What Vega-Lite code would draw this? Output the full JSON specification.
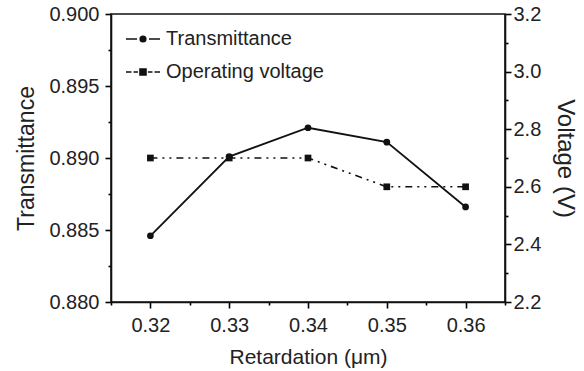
{
  "$schema": "https://vega.github.io/schema/vega-lite/v6.json",
  "width": 394,
  "height": 288,
  "autosize": "none",
  "padding": {"left": 111, "top": 14, "right": 79, "bottom": 69},
  "background": "white",
  "config": {
    "font": "Liberation Sans",
    "view": {"stroke": "#111", "strokeWidth": 1.6},
    "axis": {
      "grid": false,
      "ticks": true,
      "domainColor": "#111",
      "domainWidth": 1.6,
      "tickColor": "#000",
      "tickOpacity": 1,
      "tickWidth": 1.6,
      "labelFont": "Liberation Sans",
      "labelFontSize": 20,
      "labelColor": "#222",
      "titleFont": "Liberation Sans",
      "titleFontSize": 20,
      "titleFontWeight": "normal",
      "titleColor": "#222",
      "labelFlush": false,
      "labelOverlap": false
    },
    "legend": {
      "orient": "none",
      "legendX": 21,
      "legendY": 14,
      "padding": 0,
      "symbolSize": 400,
      "symbolStrokeWidth": 1.6,
      "symbolOpacity": 1,
      "labelFont": "Liberation Sans",
      "labelFontSize": 20,
      "labelColor": "#222",
      "labelOffset": 12,
      "rowPadding": 12
    }
  },
  "data": {
    "values": [
      {"retardation": 0.32, "series": "Transmittance", "value": 0.8846},
      {"retardation": 0.33, "series": "Transmittance", "value": 0.8901},
      {"retardation": 0.34, "series": "Transmittance", "value": 0.8921},
      {"retardation": 0.35, "series": "Transmittance", "value": 0.8911},
      {"retardation": 0.36, "series": "Transmittance", "value": 0.8866},
      {"retardation": 0.32, "series": "Operating voltage", "value": 2.7},
      {"retardation": 0.33, "series": "Operating voltage", "value": 2.7},
      {"retardation": 0.34, "series": "Operating voltage", "value": 2.7},
      {"retardation": 0.35, "series": "Operating voltage", "value": 2.6},
      {"retardation": 0.36, "series": "Operating voltage", "value": 2.6}
    ]
  },
  "encoding": {
    "x": {
      "field": "retardation",
      "type": "quantitative",
      "scale": {"domain": [0.315, 0.365], "nice": false, "zero": false},
      "axis": {
        "title": "Retardation (μm)",
        "titleFontSize": 21,
        "values": [0.315, 0.32, 0.325, 0.33, 0.335, 0.34, 0.345, 0.35, 0.355, 0.36, 0.365],
        "labelExpr": "round(datum.value * 200) % 2 ? '' : format(datum.value, '.2f')",
        "tickSize": {"condition": {"test": "round(datum.value * 200) % 2 == 1", "value": 3}, "value": 6},
        "labelPadding": 7,
        "titlePadding": 11
      }
    }
  },
  "layer": [
    {
      "transform": [{"filter": "datum.series === 'Transmittance'"}],
      "mark": {
        "type": "line",
        "color": "#111",
        "strokeWidth": 1.8,
        "point": {"filled": true, "size": 45, "color": "#111"}
      },
      "encoding": {
        "y": {
          "field": "value",
          "type": "quantitative",
          "scale": {"domain": [0.88, 0.9], "nice": false, "zero": false},
          "axis": {
            "orient": "left",
            "title": "Transmittance",
            "titleFontSize": 23,
            "values": [0.88, 0.8825, 0.885, 0.8875, 0.89, 0.8925, 0.895, 0.8975, 0.9],
            "labelExpr": "round(datum.value * 400) % 2 ? '' : format(datum.value, '.3f')",
            "tickSize": {"condition": {"test": "round(datum.value * 400) % 2 == 1", "value": 3}, "value": 6},
            "labelPadding": 6,
            "titlePadding": 10
          }
        }
      }
    },
    {
      "transform": [{"filter": "datum.series === 'Operating voltage'"}],
      "mark": {
        "type": "line",
        "color": "#111",
        "strokeWidth": 1.6,
        "strokeDash": [7, 5, 2, 5, 2, 5],
        "point": {"filled": true, "size": 45, "shape": "square", "color": "#111"}
      },
      "encoding": {
        "y": {
          "field": "value",
          "type": "quantitative",
          "scale": {"domain": [2.2, 3.2], "nice": false, "zero": false},
          "axis": {
            "orient": "right",
            "title": "Voltage (V)",
            "titleFontSize": 24,
            "values": [2.2, 2.3, 2.4, 2.5, 2.6, 2.7, 2.8, 2.9, 3.0, 3.1, 3.2],
            "labelExpr": "round(datum.value * 10) % 2 ? '' : format(datum.value, '.1f')",
            "tickSize": {"condition": {"test": "round(datum.value * 10) % 2 == 1", "value": 3}, "value": 6},
            "labelPadding": 2,
            "titlePadding": 12
          }
        }
      }
    },
    {
      "mark": {
        "type": "point",
        "filled": false,
        "stroke": "#111",
        "fill": "#111",
        "strokeWidth": 1.6,
        "opacity": 0,
        "clip": true
      },
      "encoding": {
        "y": {
          "field": "value",
          "type": "quantitative",
          "scale": {"domain": [0, 3.2], "nice": false},
          "axis": null
        },
        "shape": {
          "field": "series",
          "type": "nominal",
          "scale": {
            "domain": ["Transmittance", "Operating voltage"],
            "range": [
              "M-1.7,0H-0.6M0.6,0H1.7M-0.28,0A0.28,0.28,0,1,0,0.28,0A0.28,0.28,0,1,0,-0.28,0Z",
              "M-1.7,0H-1.15M-0.95,0H-0.5M0.5,0H0.95M1.15,0H1.7M-0.3,-0.3H0.3V0.3H-0.3Z"
            ]
          },
          "legend": {"title": null}
        }
      }
    }
  ],
  "resolve": {"scale": {"y": "independent"}}
}
